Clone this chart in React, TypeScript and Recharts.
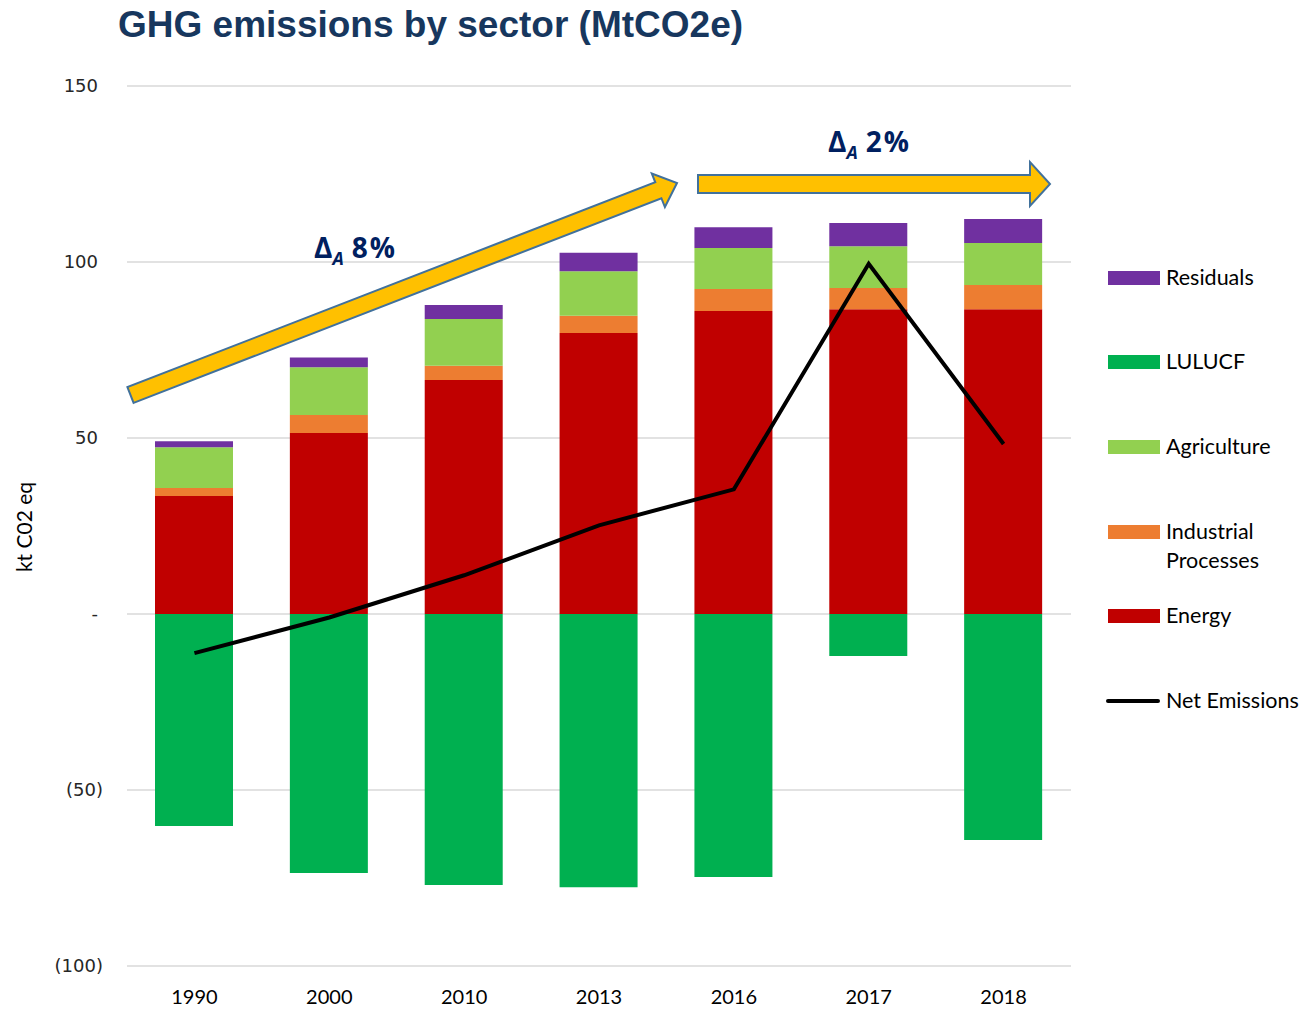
import React from 'react';
import { ComposedChart, Bar, Line, XAxis, YAxis, CartesianGrid } from 'recharts';

const years = ['1990', '2000', '2010', '2013', '2016', '2017', '2018'];
const energy = [33.5, 51.4, 66.5, 79.8, 86.1, 86.6, 86.6];
const industrial = [2.3, 5.1, 4.0, 4.9, 6.2, 6.0, 6.9];
const agriculture = [11.6, 13.6, 13.3, 12.7, 11.7, 11.9, 11.9];
const residuals = [1.7, 2.8, 4.0, 5.2, 5.9, 6.6, 6.8];
const lulucf = [-60.2, -73.6, -77.0, -77.6, -74.7, -11.9, -64.2];
const netEmissions = [-11.1, -1.0, 11.0, 25.2, 35.4, 99.5, 48.3];
const yTicks = [-100, -50, 0, 50, 100, 150];

const COLORS = {
  energy: '#C00000',
  industrial: '#ED7D31',
  agriculture: '#92D050',
  residuals: '#7030A0',
  lulucf: '#00B050',
  net: '#000000',
};

const data = years.map((year, i) => ({
  year,
  energy: energy[i],
  industrial: industrial[i],
  agriculture: agriculture[i],
  residuals: residuals[i],
  lulucf: lulucf[i],
  net: netEmissions[i],
}));

const legendItems = [
  { label: ['Residuals'], color: COLORS.residuals, top: 278 },
  { label: ['LULUCF'], color: COLORS.lulucf, top: 362 },
  { label: ['Agriculture'], color: COLORS.agriculture, top: 447 },
  { label: ['Industrial', 'Processes'], color: COLORS.industrial, top: 532 },
  { label: ['Energy'], color: COLORS.energy, top: 616 },
];

const legendText: React.CSSProperties = {
  position: 'absolute',
  fontFamily: 'Lato',
  fontSize: 21.5,
  lineHeight: '29px',
  color: '#000',
  whiteSpace: 'nowrap',
};

function fmtTick(v: number) {
  if (v === 0) return '-';
  if (v < 0) return `(${Math.abs(v)})`;
  return String(v);
}

function YTick(props: any) {
  const { x, y, payload } = props;
  const v = payload.value as number;
  return (
    <text
      x={x - (v < 0 ? 0 : 5)}
      y={y}
      dy="0.36em"
      textAnchor="end"
      fill="#262626"
      fontSize={18}
      fontFamily="DejaVu Sans"
    >
      {fmtTick(v)}
    </text>
  );
}

// simple block arrow outline between two points
function arrowPoints(x1: number, y1: number, x2: number, y2: number, shaft: number, headLen: number, headHalf: number) {
  const dx = x2 - x1;
  const dy = y2 - y1;
  const L = Math.hypot(dx, dy);
  const ux = dx / L, uy = dy / L;
  const nx = -uy, ny = ux;
  const bx = x2 - ux * headLen, by = y2 - uy * headLen;
  const pts = [
    [x1 + nx * shaft, y1 + ny * shaft],
    [bx + nx * shaft, by + ny * shaft],
    [bx + nx * headHalf, by + ny * headHalf],
    [x2, y2],
    [bx - nx * headHalf, by - ny * headHalf],
    [bx - nx * shaft, by - ny * shaft],
    [x1 - nx * shaft, y1 - ny * shaft],
  ];
  return pts.map((p) => p.map((n) => n.toFixed(1)).join(',')).join(' ');
}

function DeltaLabel({ x, y, pct }: { x: number; y: number; pct: string }) {
  return (
    <text x={x} y={y} fill="#002060" fontWeight="bold" fontFamily="Open Sans" fontSize={28}>
      <tspan>Δ</tspan>
      <tspan fontSize={18} fontStyle="italic" dy={7}>A</tspan>
      <tspan dy={-7} dx={8} letterSpacing={2}>{pct}</tspan>
    </text>
  );
}

export default function App() {
  return (
    <div
      style={{
        position: 'fixed',
        left: 0,
        top: 0,
        width: 1301,
        height: 1010,
        overflow: 'hidden',
        background: '#fff',
      }}
    >
      <ComposedChart
        width={1301}
        height={1010}
        data={data}
        stackOffset="sign"
        margin={{ top: 86, right: 230, bottom: 0, left: 0 }}
      >
        <CartesianGrid vertical={false} stroke="#D9D9D9" strokeWidth={1.5} />
        <XAxis
          dataKey="year"
          height={44}
          axisLine={false}
          tickLine={false}
          tickMargin={18}
          tick={{ fill: '#000', fontSize: 20, fontFamily: 'Lato' }}
        />
        <YAxis
          width={127}
          domain={[-100, 150]}
          ticks={yTicks}
          axisLine={false}
          tickLine={false}
          tickSize={0}
          tickMargin={24}
          tick={<YTick />}
          interval={0}
        />
        <Bar dataKey="energy" stackId="s" fill={COLORS.energy} barSize={78} isAnimationActive={false} />
        <Bar dataKey="industrial" stackId="s" fill={COLORS.industrial} barSize={78} isAnimationActive={false} />
        <Bar dataKey="agriculture" stackId="s" fill={COLORS.agriculture} barSize={78} isAnimationActive={false} />
        <Bar dataKey="residuals" stackId="s" fill={COLORS.residuals} barSize={78} isAnimationActive={false} />
        <Bar dataKey="lulucf" stackId="s" fill={COLORS.lulucf} barSize={78} isAnimationActive={false} />
        <Line
          dataKey="net"
          type="linear"
          stroke={COLORS.net}
          strokeWidth={4}
          dot={false}
          isAnimationActive={false}
        />
      </ComposedChart>

      <svg
        width={1301}
        height={1010}
        style={{ position: 'absolute', left: 0, top: 0, pointerEvents: 'none' }}
      >
        <text x={118} y={37} fill="#17375E" fontWeight="bold" fontSize={37} fontFamily="Liberation Sans">
          GHG emissions by sector (MtCO2e)
        </text>
        <polygon
          points={arrowPoints(130.5, 395, 677, 183, 8.5, 20, 18)}
          fill="#FFC000"
          stroke="#41719C"
          strokeWidth={2}
          strokeLinejoin="miter"
        />
        <polygon
          points={arrowPoints(698, 184, 1050, 184, 9, 20, 22)}
          fill="#FFC000"
          stroke="#41719C"
          strokeWidth={2}
        />
        <DeltaLabel x={314} y={258} pct="8%" />
        <DeltaLabel x={828} y={152} pct="2%" />
        <text
          transform="translate(32 527) rotate(-90)"
          textAnchor="middle"
          fill="#000"
          fontSize={21}
          fontFamily="Lato"
        >
          kt C02 eq
        </text>
      </svg>

      {legendItems.map((item) => (
        <div key={item.label[0]} style={{ position: 'absolute', left: 1108, top: item.top - 7 }}>
          <div style={{ width: 52, height: 14, background: item.color }} />
          <div style={{ ...legendText, left: 58, top: -8 }}>
            {item.label.map((l) => (
              <div key={l}>{l}</div>
            ))}
          </div>
        </div>
      ))}
      <div style={{ position: 'absolute', left: 1106, top: 699, width: 54, height: 4, borderRadius: 2, background: '#000' }} />
      <div style={{ ...legendText, left: 1166, top: 686 }}>Net Emissions</div>
    </div>
  );
}
